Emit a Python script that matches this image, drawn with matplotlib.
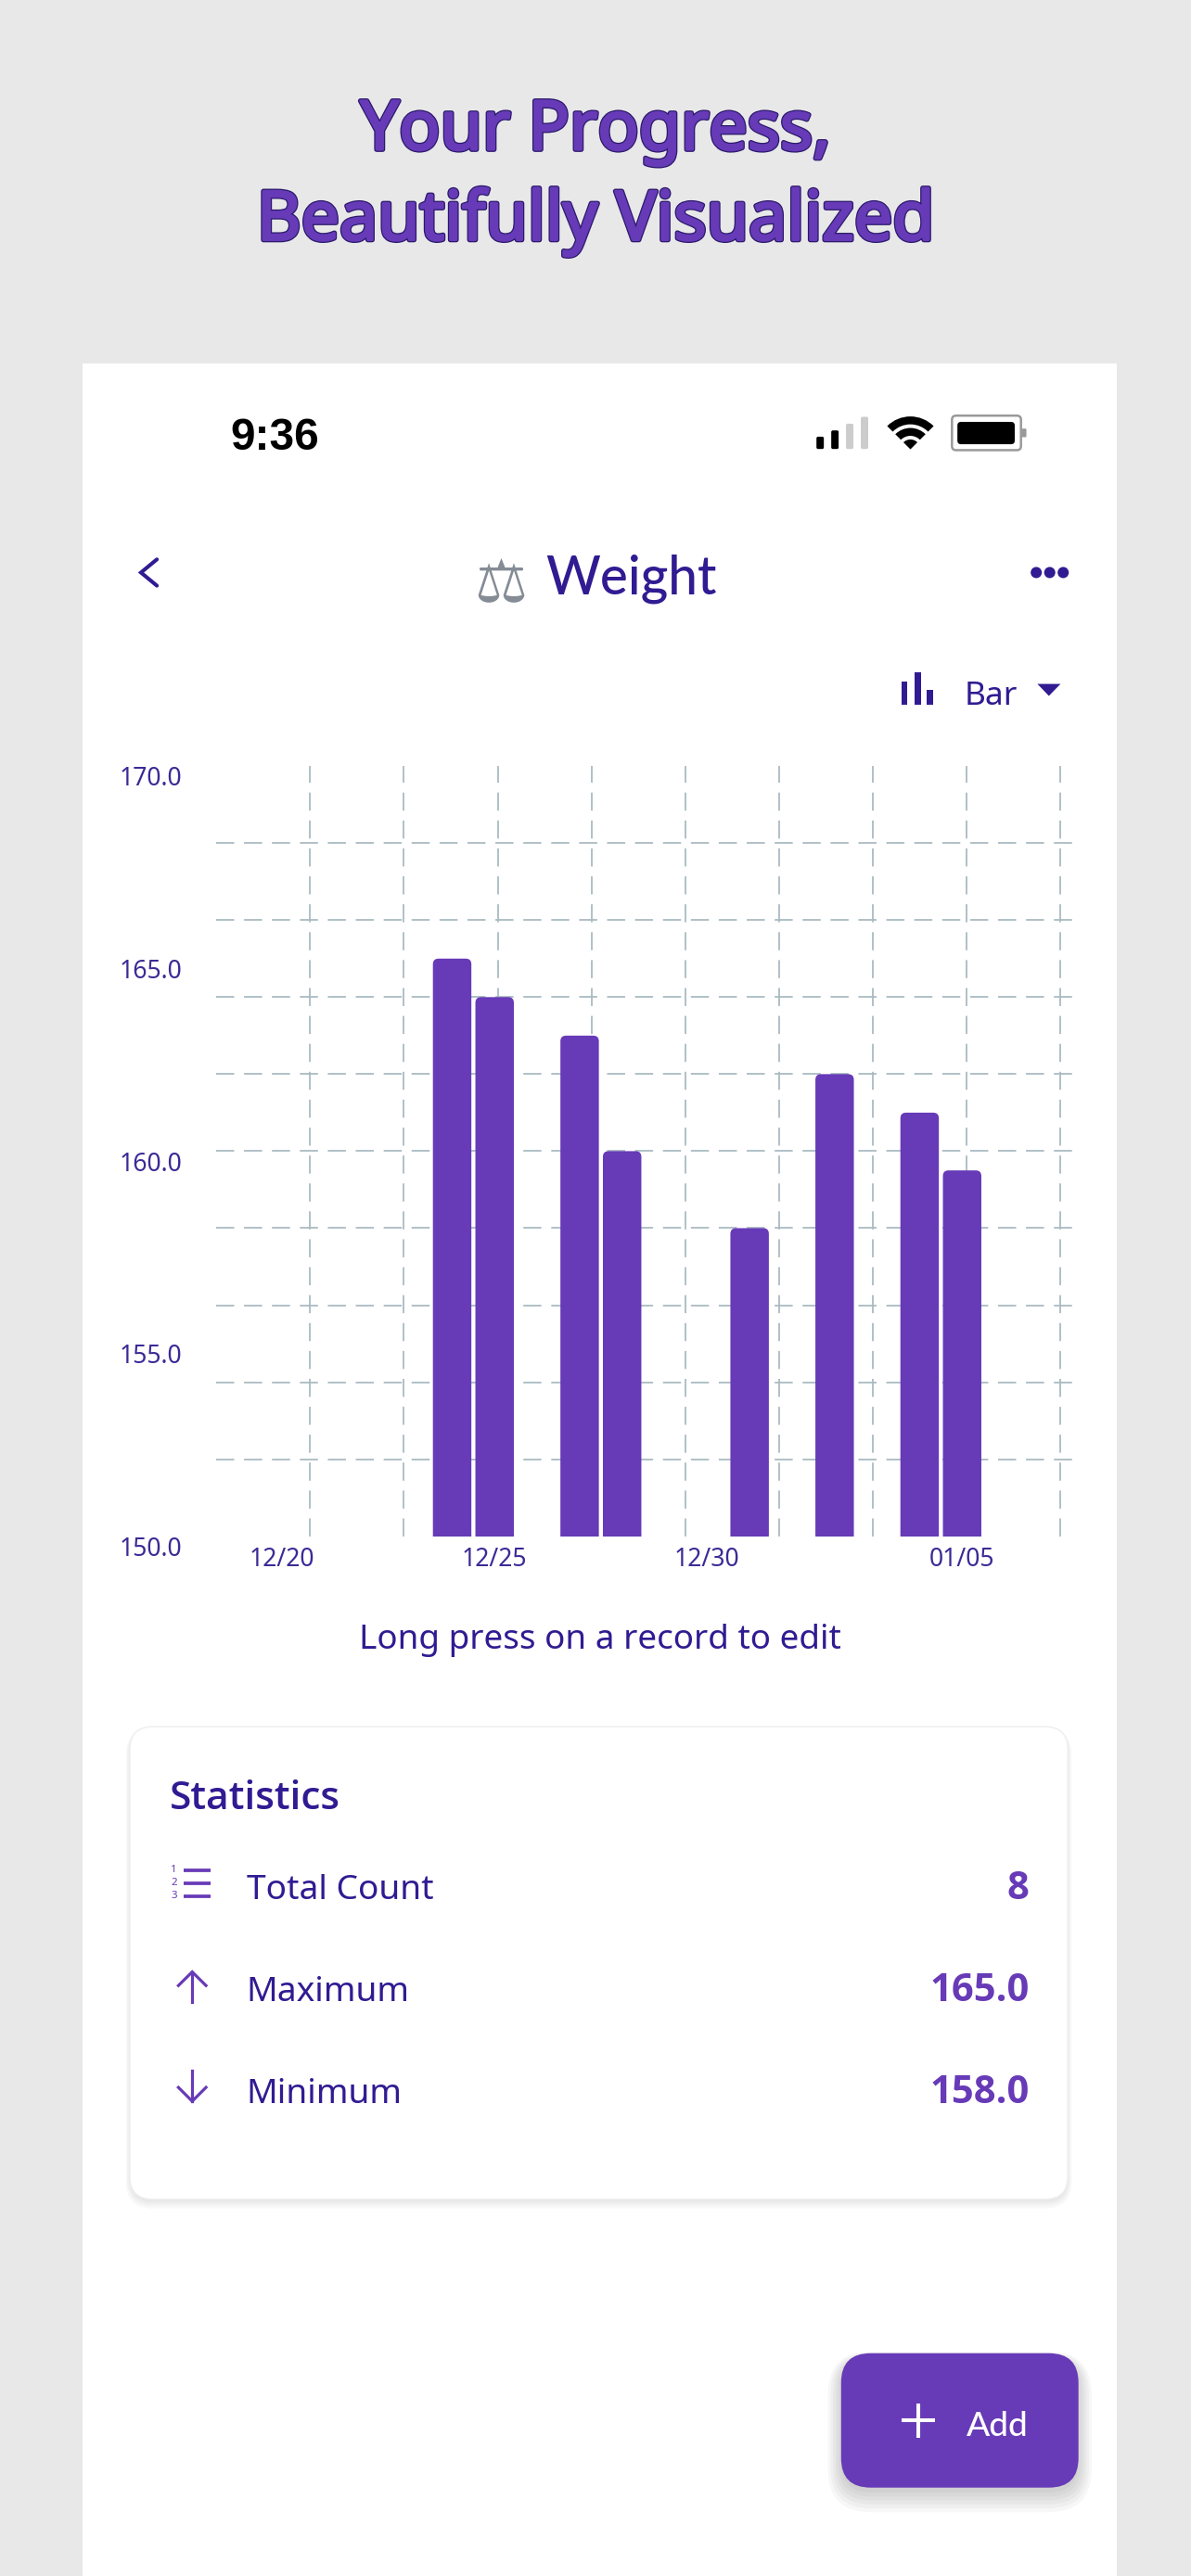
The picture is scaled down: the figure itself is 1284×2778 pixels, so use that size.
import numpy as np
import pandas as pd
import matplotlib
matplotlib.use('Agg')
import matplotlib.pyplot as plt
import matplotlib.dates as mdates
import matplotlib.patheffects as pe
from matplotlib import font_manager as fm
from matplotlib.patches import FancyBboxPatch, Rectangle, Wedge, Circle, Polygon
from matplotlib.transforms import ScaledTranslation, blended_transform_factory

# data
dates = ['2024-12-24', '2024-12-25', '2024-12-27', '2024-12-28',
         '2024-12-31', '2025-01-02', '2025-01-04', '2025-01-05']
weights = [165.0, 164.0, 163.0, 160.0, 158.0, 162.0, 161.0, 159.5]
x_tick_dates = ['2024-12-20', '2024-12-25', '2024-12-30', '2025-01-05']
y_ticks = [150.0, 155.0, 160.0, 165.0, 170.0]
stat_names = ['Total Count', 'Maximum', 'Minimum']

PURPLE = '#673ab7'
INDIGO = '#311b92'
LABEL = '#3b2a96'
GRID = '#a9bac1'

plt.rcParams['font.family'] = ['Noto Sans', 'DejaVu Sans']
plt.rcParams['lines.scale_dashes'] = False


def family_with(weight, marks):
    # first family whose file for this weight really is a heavier cut
    for fam in ['Noto Sans', 'Open Sans', 'Lato', 'Roboto']:
        try:
            f = fm.findfont(fm.FontProperties(family=fam, weight=weight),
                            fallback_to_default=False)
        except Exception:
            continue
        if any(m in f.lower() for m in marks):
            return fam
    return 'DejaVu Sans'


BOLD = [family_with('bold', ['bold']), 'DejaVu Sans']
SEMI = [family_with('semibold', ['semibold', 'medium', 'bold']), 'DejaVu Sans']
MED = [family_with('medium', ['medium', 'semibold']), 'DejaVu Sans']

# layout units: the screenshot at 725 x 1568
W, H = 725, 1568
S = 1284 / W * 0.72          # points per layout unit
U = 1284 / W / 100           # inches per layout unit

fig = plt.figure(figsize=(12.84, 27.78), dpi=100)
fig.patch.set_facecolor('#e8e8e8')
ov = fig.add_axes([0, 0, 1, 1])
ov.set_xlim(0, W)
ov.set_ylim(H, 0)
ov.axis('off')

# phone panel
ov.add_patch(Rectangle((50, 221), 630, H, fc='white', ec='none'))

# headline: regular cut thickened with strokes, thin dark rim
stroke = [pe.Stroke(linewidth=3.8, foreground='#2b1a6b'),
          pe.Stroke(linewidth=2.0, foreground=PURPLE), pe.Normal()]
for line, base in [('Your Progress,', 91), ('Beautifully Visualized', 146)]:
    ov.text(362.5, base, line, ha='center', va='baseline', fontsize=41.5 * S,
            color=PURPLE, path_effects=stroke)

# status bar
ov.text(140, 273.5, '9:36', ha='left', va='baseline', fontsize=27 * S,
        fontweight='bold', family='Liberation Sans', color='black')
for xl, top, col in [(497, 265.8, 'black'), (506, 262, 'black'),
                     (515, 257.9, '#cccccc'), (524, 253.7, '#cccccc')]:
    ov.add_patch(FancyBboxPatch((xl + 1, top + 1), 2.5, 273.3 - top - 2,
                                boxstyle='round,pad=1', fc=col, ec='none'))
wc = (554.2, 273.5)
ov.add_patch(Wedge(wc, 20, 225, 315, width=4.8, fc='black'))
ov.add_patch(Wedge(wc, 13, 225, 315, width=4.8, fc='black'))
ov.add_patch(Wedge(wc, 6, 225, 315, fc='black'))
ov.add_patch(FancyBboxPatch((582, 255.5), 37, 16, boxstyle='round,pad=2.5',
                            fc='white', ec='#999999', lw=1.4 * S))
ov.add_patch(FancyBboxPatch((585, 259), 30.5, 9.2, boxstyle='round,pad=2.2',
                            fc='black', ec='none'))
ov.add_patch(FancyBboxPatch((622.6, 261.5), 1.6, 4, boxstyle='round,pad=0.6',
                            fc='#999999', ec='none'))

# navigation bar
ov.plot([95.5, 85.8, 95.5], [340.5, 348.5, 356.5], color=INDIGO, lw=2.3 * S,
        solid_capstyle='round', solid_joinstyle='miter')
ov.text(305, 366, '\u2696', ha='center', va='baseline', fontsize=36 * S,
        family='DejaVu Sans', color='#858c96')
ov.text(332, 361.5, 'Weight', ha='left', va='baseline', fontsize=32 * S,
        family=MED, fontweight='medium', color=INDIGO)
for cx in [630.8, 639, 647.2]:
    ov.add_patch(Circle((cx, 348.5), 3.4, fc=INDIGO, ec='none'))

# chart type selector
for xl, top, bw in [(548.6, 415, 3.6), (556.8, 409.4, 4.0), (564, 419.7, 4.3)]:
    ov.add_patch(Rectangle((xl, top), bw, 429 - top, fc=INDIGO, ec='none'))
ov.text(587, 429, 'Bar', ha='left', va='baseline', fontsize=20 * S, color=INDIGO)
ov.add_patch(Polygon([(631.5, 416.3), (645.6, 416.3), (638.5, 423.6)],
                     closed=True, fc=INDIGO, ec='none'))

# chart
left, right, top, bottom = 131.7, 653.3, 466.3, 935.1
ax = fig.add_axes([left / W, 1 - bottom / H, (right - left) / W, (bottom - top) / H])
ax.patch.set_alpha(0)
for sp in ax.spines.values():
    sp.set_visible(False)

x = mdates.date2num(pd.to_datetime(dates))
day0 = mdates.date2num(pd.Timestamp(x_tick_dates[0]))
xmin, xmax = day0 - 1.548, day0 + 18.614
ax.set_xlim(xmin, xmax)
ax.set_ylim(150, 170)

dash = (11 * S, 6 * S)
for yv in np.arange(152, 170, 2):
    ax.axhline(yv, color=GRID, lw=1.0 * S, dashes=dash, zorder=0.5)
for k in range(1, 10):
    ax.axvline(xmin + 2.207 * k, color=GRID, lw=1.0 * S, dashes=dash, zorder=0.5)

bars = ax.bar(x, np.array(weights) - 149.0, bottom=149.0, width=0.905,
              color=PURPLE, zorder=2)
rx = 3.4 / 25.87
ry = 3.4 / 23.44
for b in bars:
    bx, by = b.get_xy()
    bw, bh = b.get_width(), b.get_height()
    b.remove()
    ax.add_patch(FancyBboxPatch((bx + rx, by + ry), bw - 2 * rx, bh - 2 * ry,
                                boxstyle=f'round,pad={rx}', mutation_aspect=ry / rx,
                                fc=PURPLE, ec='none', zorder=2))

ax.set_xticks(mdates.date2num(pd.to_datetime(x_tick_dates)))
ax.xaxis.set_major_formatter(mdates.DateFormatter('%m/%d'))
ax.tick_params(axis='x', length=0, pad=6.2 * S, labelsize=15 * S, labelcolor=LABEL)
ax.set_yticks([])
ylab_tr = blended_transform_factory(ax.transAxes, ax.transData) + \
    ScaledTranslation(-21 * U, -8 * U, fig.dpi_scale_trans)
for yv in y_ticks:
    ax.text(0, yv, f'{yv:.1f}', transform=ylab_tr, ha='right', va='center',
            fontsize=15 * S, color=LABEL, clip_on=False)

ov.text(365, 1003.4, 'Long press on a record to edit', ha='center', va='baseline',
        fontsize=20.8 * S, color=INDIGO)

# statistics card
for i in range(4):
    ov.add_patch(FancyBboxPatch((93, 1065 + 1.5 + i * 0.6), 543, 259.7,
                                boxstyle=f'round,pad={14 + i * 0.8}', fc='black',
                                alpha=0.025, ec='none'))
ov.add_patch(FancyBboxPatch((93, 1065), 543, 259.7, boxstyle='round,pad=14',
                            fc='white', ec='#eeeeee', lw=0.8 * S))
ov.text(103.4, 1101, 'Statistics', ha='left', va='baseline', fontsize=24 * S,
        family=SEMI, fontweight='semibold', color=INDIGO)

stat_values = [f'{len(weights)}', f'{max(weights):.1f}', f'{min(weights):.1f}']
for name, val, base in zip(stat_names, stat_values, [1156, 1218, 1280]):
    ov.text(150, base, name, ha='left', va='baseline', fontsize=21 * S, color=INDIGO)
    ov.text(626.5, base, val, ha='right', va='baseline', fontsize=23.5 * S,
            family=BOLD, fontweight='bold', color=PURPLE)

# row icons
for num, yv in zip(['1', '2', '3'], [1138.4, 1146.3, 1154.2]):
    ov.text(106, yv, num, ha='center', va='center', fontsize=6.5 * S, color=PURPLE)
    ov.plot([112, 128.2], [yv, yv], color=PURPLE, lw=2.1 * S, solid_capstyle='butt')
ov.plot([117, 117], [1200.5, 1218.8], color=PURPLE, lw=1.8 * S)
ov.plot([108.6, 117, 125.4], [1208.6, 1200.3, 1208.6], color=PURPLE, lw=1.8 * S,
        solid_joinstyle='miter')
ov.plot([117, 117], [1260.5, 1278.8], color=PURPLE, lw=1.8 * S)
ov.plot([108.6, 117, 125.4], [1270.6, 1279, 1270.6], color=PURPLE, lw=1.8 * S,
        solid_joinstyle='miter')

# add button
for i in range(6):
    ov.add_patch(FancyBboxPatch((530, 1450.4 + 3 + i * 0.8), 108.5, 45.8,
                                boxstyle=f'round,pad={18 + i * 1.6}', fc='black',
                                alpha=0.03, ec='none'))
ov.add_patch(FancyBboxPatch((530, 1450.4), 108.5, 45.8, boxstyle='round,pad=18',
                            fc=PURPLE, ec='none'))
ov.plot([548.6, 569], [1473.2, 1473.2], color='white', lw=2.3 * S, solid_capstyle='butt')
ov.plot([558.8, 558.8], [1462.8, 1483.7], color='white', lw=2.3 * S, solid_capstyle='butt')
ov.text(588.5, 1482.5, 'Add', ha='left', va='baseline', fontsize=21 * S,
        family=MED, fontweight='medium', color='white')

fig.savefig('out.png', dpi=100, facecolor=fig.get_facecolor())
